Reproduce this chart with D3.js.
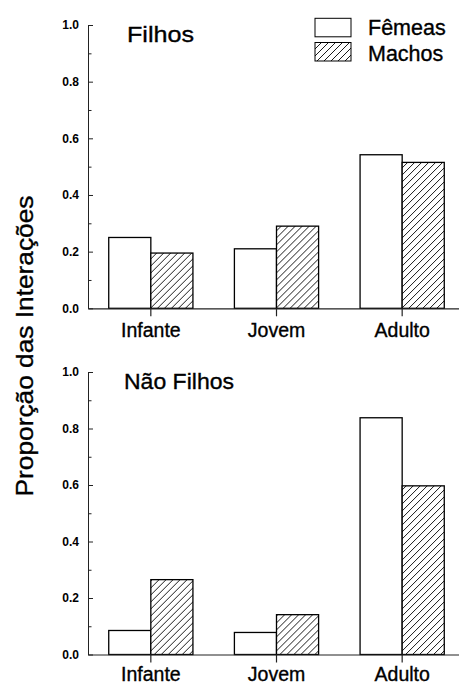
<!DOCTYPE html>
<html>
<head>
<meta charset="utf-8">
<script src="https://cdn.jsdelivr.net/npm/d3@7"></script>
<style>
  html, body { margin: 0; padding: 0; background: #fff; }
  svg { display: block; }
  text { font-family: "Liberation Sans", Arial, Helvetica, sans-serif; fill: #000; }
  .heavy { stroke: #000; stroke-width: 0.35px; }
</style>
</head>
<body>
<script>
// Categories and series
const categories = ["Infante", "Jovem", "Adulto"];
const sexes = ["Fêmeas", "Machos"];

// Proportion of interactions — offspring ("Filhos")
const filhosFemeas = [0.250, 0.210, 0.542];
const filhosMachos = [0.195, 0.290, 0.515];

// Proportion of interactions — non-offspring ("Não Filhos")
const naoFilhosFemeas = [0.085, 0.078, 0.838];
const naoFilhosMachos = [0.265, 0.141, 0.597];

// Axis ticks
const yMajorTicks = [0.0, 0.2, 0.4, 0.6, 0.8, 1.0];
const yMinorTicks = [0.1, 0.3, 0.5, 0.7, 0.9];

const panelTitles = ["Filhos", "Não Filhos"];
const yTitle = "Proporção das Interações";

const W = 459, H = 684;
const svg = d3.select("body").append("svg")
  .attr("width", W).attr("height", H);

// Diagonal hatch for males
const defs = svg.append("defs");
const pat = defs.append("pattern")
  .attr("id", "hatch")
  .attr("patternUnits", "userSpaceOnUse")
  .attr("width", 7).attr("height", 7);
pat.append("rect").attr("width", 7).attr("height", 7).attr("fill", "#fff");
pat.append("path")
  .attr("d", "M-1,1 L1,-1 M0,7 L7,0 M6,8 L8,6")
  .attr("stroke", "#000").attr("stroke-width", 0.9);

const fillFor = s => s === "Machos" ? "url(#hatch)" : "#fff";

const x = d3.scaleBand()
  .domain(categories)
  .range([88, 465])
  .paddingInner(0.33)
  .paddingOuter(0.165);

const xSub = d3.scaleBand()
  .domain(sexes)
  .range([0, x.bandwidth()]);

const panels = [
  { title: panelTitles[0], fem: filhosFemeas, mac: filhosMachos, y0: 308.3, y1: 25,
    titleX: 127, titleY: 42.3, titleSize: 22, titleLen: 67, labelPad: 7 },
  { title: panelTitles[1], fem: naoFilhosFemeas, mac: naoFilhosMachos, y0: 654.5, y1: 372,
    titleX: 124, titleY: 389.3, titleSize: 22.5, titleLen: 110, labelPad: 5 }
];

panels.forEach(p => {
  const y = d3.scaleLinear().domain([0, 1]).range([p.y0, p.y1]);
  const g = svg.append("g");

  // Bars
  const rows = categories.map((c, i) => ({ cat: c, values: [
    { sex: sexes[0], v: p.fem[i] },
    { sex: sexes[1], v: p.mac[i] }
  ]}));
  const grp = g.selectAll("g.cat").data(rows).join("g")
    .attr("class", "cat")
    .attr("transform", d => `translate(${x(d.cat)},0)`);
  grp.selectAll("rect").data(d => d.values).join("rect")
    .attr("x", d => xSub(d.sex))
    .attr("width", xSub.bandwidth())
    .attr("y", d => y(d.v))
    .attr("height", d => y(0) - y(d.v))
    .attr("fill", d => fillFor(d.sex))
    .attr("stroke", "#000")
    .attr("stroke-width", 1.3);

  // Y axis, major ticks inward with bold labels
  const yAxis = d3.axisLeft(y)
    .tickValues(yMajorTicks)
    .tickFormat(d3.format(".1f"))
    .tickSize(-5)
    .tickSizeOuter(0)
    .tickPadding(9);
  const ya = g.append("g").attr("transform", "translate(88,0)").call(yAxis);
  ya.selectAll("text")
    .attr("font-size", 12).attr("font-weight", "bold")
    .attr("font-family", "Liberation Sans, Arial, sans-serif");
  ya.selectAll("path, line").attr("stroke", "#222").attr("stroke-width", 1);

  // Minor ticks
  const yMinor = d3.axisLeft(y)
    .tickValues(yMinorTicks)
    .tickFormat("")
    .tickSize(-3.5)
    .tickSizeOuter(0);
  const ym = g.append("g").attr("transform", "translate(88,0)").call(yMinor);
  ym.select(".domain").remove();
  ym.selectAll("line").attr("stroke", "#222");

  // X axis
  const xAxis = d3.axisBottom(x).tickSize(8).tickSizeOuter(0).tickPadding(p.labelPad);
  const xa = g.append("g").attr("transform", `translate(0,${p.y0})`).call(xAxis);
  xa.selectAll("text")
    .attr("class", "heavy")
    .attr("font-size", 19.5)
    .attr("font-family", "Liberation Sans, Arial, sans-serif");
  xa.selectAll("path, line").attr("stroke", "#222").attr("stroke-width", 1.2);

  // Panel title
  g.append("text")
    .attr("class", "heavy")
    .attr("x", p.titleX).attr("y", p.titleY)
    .attr("font-size", p.titleSize)
    .attr("textLength", p.titleLen)
    .attr("lengthAdjust", "spacingAndGlyphs")
    .text(p.title);
});

// Shared y-axis title
svg.append("text")
  .attr("class", "heavy")
  .attr("transform", "translate(32.7,346) rotate(-90)")
  .attr("text-anchor", "middle")
  .attr("font-size", 24)
  .attr("textLength", 301)
  .attr("lengthAdjust", "spacingAndGlyphs")
  .text(yTitle);

// Legend
const legend = svg.append("g");
const legendRows = [
  { sex: sexes[0], boxY: 18.3, textY: 34.5 },
  { sex: sexes[1], boxY: 42.5, textY: 61 }
];
legend.selectAll("rect").data(legendRows).join("rect")
  .attr("x", 315).attr("y", d => d.boxY)
  .attr("width", 36).attr("height", 18.5)
  .attr("fill", d => fillFor(d.sex))
  .attr("stroke", "#000").attr("stroke-width", 1);
legend.selectAll("text").data(legendRows).join("text")
  .attr("class", "heavy")
  .attr("x", 368).attr("y", d => d.textY)
  .attr("font-size", 21.5)
  .text(d => d.sex);
</script>
</body>
</html>
